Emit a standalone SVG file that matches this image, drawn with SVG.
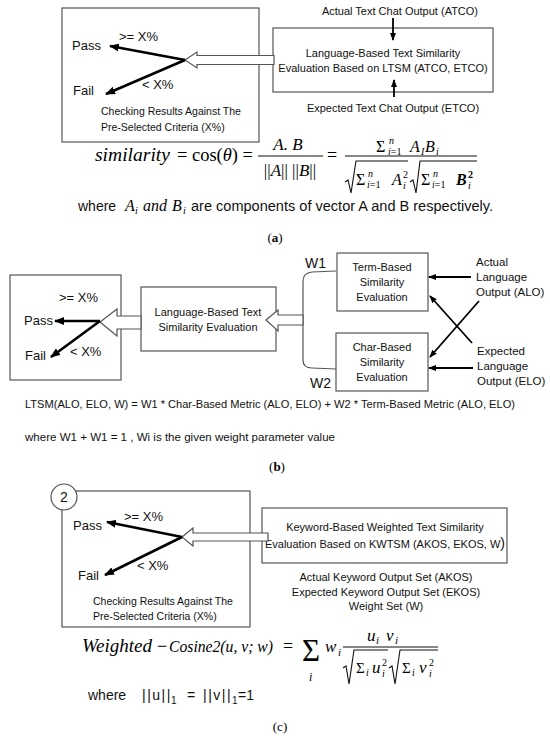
<svg xmlns="http://www.w3.org/2000/svg" width="550" height="737" viewBox="0 0 550 737">
<defs>
<style>
.box{fill:none;stroke:#555;stroke-width:1.2}
.t{font-family:"Liberation Sans",Arial,sans-serif;fill:#111}
.m{font-family:"Liberation Serif","Times New Roman",serif;font-style:italic;fill:#000}
.r{font-family:"Liberation Serif","Times New Roman",serif;fill:#000}
.hol{fill:#fff;stroke:#555;stroke-width:1.2}
.arr{stroke:#000;stroke-width:2.6;fill:none;marker-end:url(#ah)}
.arr2{stroke:#000;stroke-width:1.8;fill:none;marker-end:url(#ah2)}
.ln{stroke:#111;stroke-width:1.1;fill:none}
.br{stroke:#555;stroke-width:1.2;fill:none}
</style>
<marker id="ah" viewBox="0 0 10 8" refX="9" refY="4" markerWidth="10" markerHeight="8" markerUnits="userSpaceOnUse" orient="auto"><path d="M0,0 L10,4 L0,8 z" fill="#000"/></marker>
<marker id="ah2" viewBox="0 0 8 6" refX="7" refY="3" markerWidth="8" markerHeight="6" markerUnits="userSpaceOnUse" orient="auto"><path d="M0,0 L8,3 L0,6 z" fill="#000"/></marker>
</defs>

<!-- ===== (a) ===== -->
<g id="a-check">
<rect class="box" x="62" y="8" width="197" height="134"/>
<text class="t" x="119" y="41" font-size="13">&gt;= X%</text>
<text class="t" x="72" y="50" font-size="13">Pass</text>
<text class="t" x="73" y="95" font-size="13">Fail</text>
<text class="t" x="142" y="89" font-size="13">&lt; X%</text>
<text class="t" x="101" y="115" font-size="10.5">Checking Results Against The</text>
<text class="t" x="101" y="131" font-size="10.5">Pre-Selected Criteria (X%)</text>
</g>
<g id="a-eval">
<rect class="box" x="273" y="28" width="220" height="64"/>
<text class="t" x="383" y="57" font-size="11" text-anchor="middle">Language-Based Text Similarity</text>
<text class="t" x="383" y="72" font-size="11" text-anchor="middle">Evaluation Based on LTSM (ATCO, ETCO)</text>
</g>
<g id="a-atco"><text class="t" x="400" y="15" font-size="11" text-anchor="middle">Actual Text Chat Output (ATCO)</text></g>
<g id="a-etco"><text class="t" x="393" y="112" font-size="11" text-anchor="middle">Expected Text Chat Output (ETCO)</text></g>

<g id="a-connectors">
<polygon class="hol" points="185,60 197,52 197,55.5 274,55.5 274,64.5 197,64.5 197,68"/>
<line class="arr" x1="185" y1="60" x2="110" y2="46"/>
<line class="arr" x1="185" y1="60" x2="106" y2="94"/>
<line class="arr2" x1="393" y1="18" x2="393" y2="40"/>
<line class="arr2" x1="394" y1="97" x2="394" y2="80"/>
</g>

<g id="a-formula">
<text class="m" x="95" y="161" font-size="18" textLength="75" lengthAdjust="spacingAndGlyphs">similarity</text>
<text class="r" x="177" y="161" font-size="18" textLength="76" lengthAdjust="spacingAndGlyphs">= cos(<tspan font-style="italic">θ</tspan>) =</text>
<text class="m" x="288" y="150" font-size="17" text-anchor="middle">A. B</text>
<line class="ln" x1="258" y1="156" x2="323" y2="156"/>
<text class="r" x="290" y="176" font-size="17" text-anchor="middle">||<tspan font-style="italic">A</tspan>|| ||<tspan font-style="italic">B</tspan>||</text>
<text class="r" x="327" y="161" font-size="18">=</text>
<line class="ln" x1="345" y1="156" x2="477" y2="156"/>
<text class="r" x="376" y="152" font-size="16">Σ</text>
<text class="m" x="389" y="144" font-size="10">n</text>
<text class="r" x="388" y="155" font-size="10"><tspan font-style="italic">i</tspan>=1</text>
<text class="m" x="410" y="152" font-size="16">A</text>
<text class="m" x="421" y="155" font-size="10">I</text>
<text class="m" x="425" y="152" font-size="16">B</text>
<text class="m" x="436" y="155" font-size="10">i</text>
<polyline class="ln" points="345,182 348,180 351,193 356,161 408,161"/>
<text class="r" x="356" y="185" font-size="16">Σ</text>
<text class="m" x="368" y="177" font-size="10">n</text>
<text class="r" x="367" y="188" font-size="10"><tspan font-style="italic">i</tspan>=1</text>
<text class="m" x="392" y="185" font-size="16">A</text>
<text class="r" x="403" y="178" font-size="10">2</text>
<text class="m" x="403" y="189" font-size="10">i</text>
<polyline class="ln" points="410,182 413,180 416,193 420,161 477,161"/>
<text class="r" x="421" y="185" font-size="16">Σ</text>
<text class="m" x="433" y="177" font-size="10">n</text>
<text class="r" x="432" y="188" font-size="10"><tspan font-style="italic">i</tspan>=1</text>
<text class="m" x="456" y="185" font-size="16" font-weight="bold">B</text>
<text class="r" x="468" y="178" font-size="10" font-weight="bold">2</text>
<text class="m" x="468" y="189" font-size="10">i</text>
<text class="t" x="78" y="211" font-size="14">where</text>
<text class="m" x="125" y="211" font-size="16">A</text>
<text class="m" x="135" y="214" font-size="10">i</text>
<text class="m" x="143" y="211" font-size="16">and</text>
<text class="m" x="172" y="211" font-size="16">B</text>
<text class="m" x="183" y="214" font-size="10">i</text>
<text class="t" x="191" y="211" font-size="14" textLength="302" lengthAdjust="spacingAndGlyphs">are components of vector A and B respectively.</text>
<text class="r" x="275" y="242" font-size="13" text-anchor="middle">(<tspan font-weight="bold">a</tspan>)</text>
</g>

<!-- ===== (b) ===== -->
<g id="b-check">
<rect class="box" x="10" y="275" width="111" height="105"/>
<text class="t" x="59" y="302" font-size="13">&gt;= X%</text>
<text class="t" x="24" y="325" font-size="13">Pass</text>
<text class="t" x="25" y="360" font-size="13">Fail</text>
<text class="t" x="70" y="356" font-size="13">&lt; X%</text>
</g>
<g id="b-eval">
<rect class="box" x="141" y="287" width="135" height="64"/>
<text class="t" x="208" y="316" font-size="11" text-anchor="middle">Language-Based Text</text>
<text class="t" x="208" y="331" font-size="11" text-anchor="middle">Similarity Evaluation</text>
</g>
<g id="b-term">
<rect class="box" x="337" y="253" width="91" height="58"/>
<text class="t" x="382" y="271" font-size="11" text-anchor="middle">Term-Based</text>
<text class="t" x="382" y="286" font-size="11" text-anchor="middle">Similarity</text>
<text class="t" x="382" y="301" font-size="11" text-anchor="middle">Evaluation</text>
</g>
<g id="b-char">
<rect class="box" x="336" y="333" width="92" height="58"/>
<text class="t" x="382" y="351" font-size="11" text-anchor="middle">Char-Based</text>
<text class="t" x="382" y="366" font-size="11" text-anchor="middle">Similarity</text>
<text class="t" x="382" y="381" font-size="11" text-anchor="middle">Evaluation</text>
</g>
<g id="b-alo">
<text class="t" x="476" y="266" font-size="11.5">Actual</text>
<text class="t" x="476" y="281" font-size="11.5">Language</text>
<text class="t" x="476" y="296" font-size="11.5">Output (ALO)</text>
</g>
<g id="b-elo">
<text class="t" x="477" y="355" font-size="11.5">Expected</text>
<text class="t" x="477" y="370" font-size="11.5">Language</text>
<text class="t" x="477" y="385" font-size="11.5">Output (ELO)</text>
</g>
<g id="b-weights">
<text class="t" x="305" y="268" font-size="14">W1</text>
<text class="t" x="310" y="388" font-size="14">W2</text>
</g>

<g id="b-connectors">
<path class="br" d="M336,271 L312,272 Q303,273 303,281 L303,360 Q303,368 312,368 L336,369"/>
<polygon class="hol" points="100,322 117,309 117,316 141,316 141,329 117,329 117,336"/>
<polygon class="hol" points="266,320 278,310 278,315 303,315 303,325 278,325 278,331"/>
<line class="arr" x1="100" y1="321" x2="55" y2="321"/>
<line class="arr" x1="100" y1="321" x2="51" y2="357"/>
<line class="arr2" x1="471" y1="277" x2="429" y2="277"/>
<line class="arr2" x1="473" y1="368" x2="429" y2="368"/>
<line class="arr2" x1="472" y1="343" x2="430" y2="296"/>
<line class="arr2" x1="479" y1="301" x2="430" y2="357"/>
</g>

<g id="b-formula">
<text class="t" x="25" y="408" font-size="11.5" textLength="490" lengthAdjust="spacingAndGlyphs">LTSM(ALO, ELO, W) = W1 * Char-Based Metric (ALO, ELO)  + W2 * Term-Based Metric (ALO, ELO)</text>
<text class="t" x="25" y="441" font-size="11.5" textLength="310" lengthAdjust="spacingAndGlyphs">where W1 + W1 = 1 , Wi is the given weight parameter value</text>
<text class="r" x="277" y="471" font-size="13" text-anchor="middle">(<tspan font-weight="bold">b</tspan>)</text>
</g>

<!-- ===== (c) ===== -->
<g id="c-check">
<rect class="box" x="62" y="491" width="188" height="136"/>
<circle cx="64" cy="497" r="13" fill="#fff" stroke="#555" stroke-width="1.2"/>
<text class="t" x="64" y="502" font-size="14" text-anchor="middle">2</text>
<text class="t" x="124" y="521" font-size="13">&gt;= X%</text>
<text class="t" x="73" y="530" font-size="13">Pass</text>
<text class="t" x="78" y="580" font-size="13">Fail</text>
<text class="t" x="137" y="570" font-size="13">&lt; X%</text>
<text class="t" x="93" y="605" font-size="10.5">Checking Results Against The</text>
<text class="t" x="93" y="620" font-size="10.5">Pre-Selected Criteria (X%)</text>
</g>
<g id="c-eval">
<rect class="box" x="262" y="508" width="245" height="55"/>
<text class="t" x="385" y="531" font-size="11" text-anchor="middle">Keyword-Based Weighted Text Similarity</text>
<text class="t" x="385" y="548" font-size="11" text-anchor="middle">Evaluation Based on KWTSM (AKOS, EKOS, W<tspan font-size="14">)</tspan></text>
</g>
<g id="c-inputs">
<text class="t" x="386" y="581" font-size="11" text-anchor="middle">Actual Keyword Output Set (AKOS)</text>
<text class="t" x="386" y="596" font-size="11" text-anchor="middle">Expected Keyword Output Set (EKOS)</text>
<text class="t" x="386" y="610" font-size="11" text-anchor="middle">Weight Set (W)</text>
</g>

<g id="c-connectors">
<polygon class="hol" points="182,537 193,528 193,533 268,533 268,541 193,541 193,546"/>
<line class="arr" x1="182" y1="537" x2="107" y2="522"/>
<line class="arr" x1="182" y1="537" x2="105" y2="575"/>
</g>

<g id="c-formula">
<text class="m" x="82" y="652" font-size="18" textLength="70" lengthAdjust="spacingAndGlyphs">Weighted</text>
<text class="r" x="157" y="652" font-size="18">−</text>
<text class="m" x="169" y="652" font-size="16" textLength="104" lengthAdjust="spacingAndGlyphs">Cosine2(u, v; w)</text>
<text class="r" x="283" y="652" font-size="18">=</text>
<text class="r" x="302" y="661" font-size="31">Σ</text>
<text class="m" x="309" y="681" font-size="12">i</text>
<text class="m" x="325" y="652" font-size="17">w</text>
<text class="m" x="338" y="656" font-size="11">i</text>
<line class="ln" x1="343" y1="647" x2="438" y2="647"/>
<text class="m" x="367" y="641" font-size="17">u</text>
<text class="m" x="376" y="644" font-size="11">i</text>
<text class="m" x="386" y="641" font-size="17">v</text>
<text class="m" x="395" y="644" font-size="11">i</text>
<polyline class="ln" points="343,668 346,666 349,684 354,650 388,650"/>
<text class="r" x="356" y="673" font-size="15">Σ</text>
<text class="m" x="366" y="676" font-size="10">i</text>
<text class="m" x="372" y="673" font-size="17">u</text>
<text class="r" x="382" y="666" font-size="10">2</text>
<text class="m" x="382" y="677" font-size="10">i</text>
<polyline class="ln" points="389,668 392,666 395,684 400,650 438,650"/>
<text class="r" x="402" y="673" font-size="15">Σ</text>
<text class="m" x="412" y="676" font-size="10">i</text>
<text class="m" x="419" y="673" font-size="17">v</text>
<text class="r" x="429" y="666" font-size="10">2</text>
<text class="m" x="429" y="677" font-size="10">i</text>
<text class="t" x="88" y="700" font-size="14">where</text>
<text class="t" x="142" y="700" font-size="14" letter-spacing="1.5">||u||</text>
<text class="t" x="171" y="704" font-size="10">1</text>
<text class="t" x="187" y="700" font-size="14">=</text>
<text class="t" x="203" y="700" font-size="14" letter-spacing="1.5">||v||</text>
<text class="t" x="232" y="704" font-size="10">1</text>
<text class="t" x="238" y="700" font-size="14">=1</text>
<text class="r" x="280" y="731" font-size="13" text-anchor="middle">(c)</text>
</g>
</svg>
